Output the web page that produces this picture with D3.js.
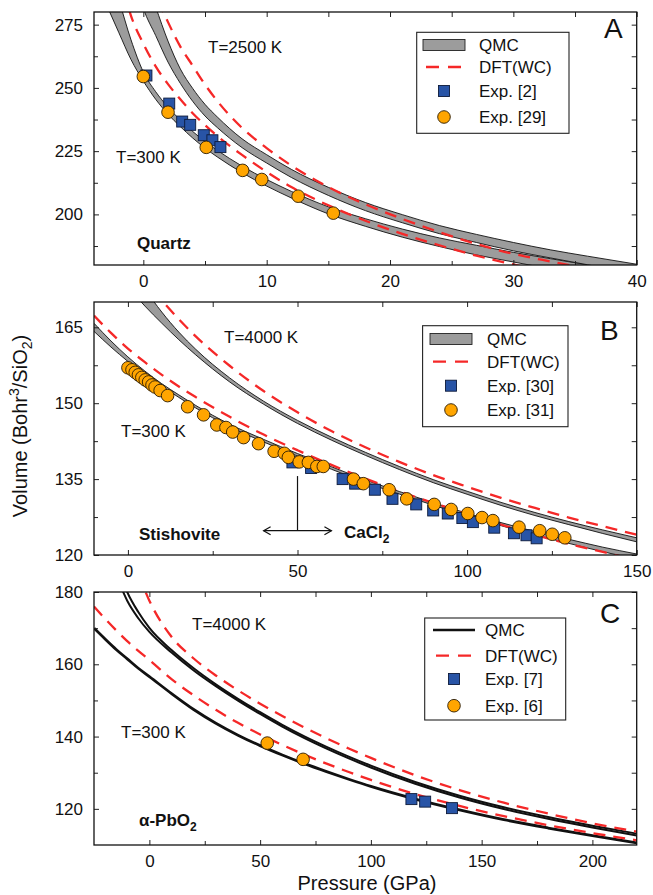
<!DOCTYPE html>
<html>
<head>
<meta charset="utf-8">
<script src="https://cdn.jsdelivr.net/npm/d3@7"></script>
<style>
body { margin: 0; background: #fff; }
svg text { font-family: "Liberation Sans", Arial, Helvetica, sans-serif; fill: #111; }
</style>
</head>
<body>
<svg id="fig" width="653" height="895"></svg>
<script>
// ---------------- data (pressure in GPa, volume in bohr^3 / SiO2) ----------------

// Panel A : quartz
var pA = [-3, -2, -1, 0, 1, 2, 3, 4, 5, 6, 8, 10, 12, 15, 18, 21, 24, 27, 30, 33, 36, 40];
var qmcLoA300  = [283, 272, 261.2, 252.7, 245.5, 239.6, 234.7, 230.2, 226.2, 222.7, 216.5, 211.2, 206.5, 200.2, 195.3, 191.0, 187.3, 184.0, 181.2, 178.5, 176.1, 173.2];
var qmcHiA300  = [300, 285, 269, 256.3, 248.5, 242.4, 237.3, 232.8, 228.8, 225.3, 219.1, 213.8, 209.1, 203.0, 198.3, 194.2, 190.7, 187.8, 185.0, 182.5, 180.1, 177.2];
var qmcLoA2500 = [null, null, 300, 281.5, 270.7, 260.2, 251.8, 244.7, 238.9, 234.3, 226.4, 220.3, 214.6, 207.5, 201.5, 196.7, 192.4, 188.9, 185.6, 182.8, 180.1, 176.7];
var qmcHiA2500 = [null, null, 315, 296, 282, 268.5, 257.5, 249.8, 243.5, 238.5, 229.9, 223.6, 217.8, 210.7, 204.7, 199.9, 195.6, 192.1, 188.9, 186.0, 183.5, 180.3];
var dftA300    = [null, 296, 278.5, 267.5, 258.5, 251.5, 245.5, 240, 235.3, 231, 223.5, 216.8, 210.8, 203.6, 197.5, 192.3, 187.8, 183.7, 180.2, 177.0, 174.0, 170.5];
var dftA2500   = [null, null, null, 299, 287, 276, 266.3, 258.8, 251.3, 244.8, 234.2, 226.2, 219.3, 210.8, 204.0, 198.2, 193.0, 188.3, 184.4, 181.4, 178.6, 175.0];
var exp2P  = [0.25, 2.1, 3.15, 3.8, 4.9, 5.6, 6.25];
var exp2V  = [254.9, 243.8, 236.7, 235.4, 231.3, 229.3, 226.6];
var exp29P = [0, 2.0, 5.1, 8.05, 9.6, 12.55, 15.4];
var exp29V = [254.5, 240.4, 226.5, 217.4, 213.8, 207.2, 200.5];

// Panel B : stishovite / CaCl2
var pB = [-10, -5, 0, 5, 10, 15, 20, 30, 40, 50, 60, 70, 80, 90, 100, 110, 120, 130, 140, 150];
var qmcLoB300  = [164.2, 161.1, 158.25, 155.65, 153.35, 151.15, 149.05, 145.35, 142.35, 139.55, 136.95, 134.35, 132.05, 129.85, 127.75, 125.8, 123.95, 122.3, 120.65, 119.2];
var qmcHiB300  = [165.8, 162.3, 159.15, 156.35, 153.85, 151.65, 149.55, 145.85, 142.85, 140.05, 137.45, 134.85, 132.55, 130.35, 128.25, 126.4, 124.65, 123.1, 121.55, 120.2];
var qmcLoB4000 = [null, null, 173.0, 169.2, 165.8, 162.55, 159.55, 154.2, 149.8, 146.0, 142.7, 139.7, 136.9, 134.3, 132.0, 129.8, 127.8, 126.0, 124.25, 122.6];
var qmcHiB4000 = [null, null, 178.0, 172.6, 168.0, 164.05, 160.65, 155.0, 150.4, 146.6, 143.3, 140.3, 137.5, 134.9, 132.6, 130.4, 128.4, 126.6, 124.95, 123.4];
var dftB300    = [167.3, 163.9, 160.8, 158.1, 155.6, 153.3, 151.2, 147.3, 143.8, 140.7, 137.8, 135.1, 132.6, 130.3, 128.1, 126.0, 124.0, 122.2, 120.6, 119.0];
var dftB4000   = [null, null, 178.5, 174.2, 170.3, 166.6, 163.2, 157.4, 152.4, 148.2, 144.5, 141.3, 138.4, 135.8, 133.5, 131.3, 129.3, 127.4, 125.7, 124.0];
var exp30P = [48.5, 54, 63.3, 67, 72.8, 78, 85, 90, 94.3, 98.6, 101.7, 108, 113.8, 117.5, 120.5];
var exp30V = [138.3, 137.2, 135.0, 134.1, 132.9, 131.1, 130.0, 128.8, 128.2, 127.3, 126.5, 125.4, 124.3, 123.9, 123.3];
var exp31P = [0, 1.2, 2.15, 3.1, 4.1, 5.1, 6.1, 7.1, 8.0, 9.5, 11.7, 17.6, 22.3, 26.2, 28.9, 30.9, 34.1, 38.5, 43.1, 46.1, 47.3, 50.5, 53.2, 55.7, 57.6, 66.5, 69.4, 77.0, 82.2, 90.3, 95.3, 100.2, 104.4, 107.6, 115.3, 121.4, 125.1, 128.8];
var exp31V = [157.0, 156.6, 156.1, 155.6, 155.1, 154.6, 154.2, 153.6, 153.2, 152.5, 151.5, 149.3, 147.7, 145.7, 145.2, 144.3, 143.2, 142.0, 140.5, 140.1, 139.3, 138.4, 138.3, 137.5, 137.5, 135.0, 134.1, 132.9, 131.1, 130.0, 129.0, 128.2, 127.4, 126.8, 125.5, 124.8, 124.1, 123.4];
var transP = [40, 50, 60];        // arrow: left end, transition, right end
var transV = [135.6, 124.8];      // arrow: top of the vertical bar, level of the double arrow

// Panel C : alpha-PbO2
var pC = [-25, -20, -15, -10, -5, 0, 10, 20, 30, 40, 50, 60, 70, 80, 90, 100, 120, 140, 160, 180, 200, 220];
var qmcC300    = [170.0, 167.0, 164.1, 161.5, 158.9, 156.6, 151.9, 147.5, 143.7, 140.4, 137.5, 134.9, 132.5, 130.3, 128.2, 126.2, 122.7, 119.7, 117.0, 114.7, 112.6, 110.6];
var qmcLoC4000 = [null, null, 184.7, 177.6, 172.75, 168.95, 163.25, 158.3, 153.95, 149.95, 146.25, 142.75, 139.55, 136.65, 133.95, 131.45, 126.95, 123.15, 119.95, 117.25, 114.85, 112.65];
var qmcHiC4000 = [null, null, 188.3, 180.0, 174.45, 170.05, 163.95, 158.9, 154.45, 150.45, 146.75, 143.25, 140.05, 137.15, 134.45, 131.95, 127.45, 123.65, 120.45, 117.75, 115.35, 113.15];
var dftC300    = [176.0, 172.6, 169.4, 166.4, 163.7, 161.2, 155.9, 151.4, 147.4, 143.8, 140.6, 137.7, 135.0, 132.5, 130.2, 128.0, 124.1, 120.8, 118.0, 115.5, 113.3, 111.3];
var dftC4000   = [null, null, null, null, 185.0, 177.6, 167.6, 161.6, 156.9, 152.8, 149.1, 145.7, 142.5, 139.5, 136.7, 134.1, 129.3, 125.2, 121.7, 118.7, 116.0, 113.7];
var exp7P = [118.3, 124.5, 136.6];
var exp7V = [122.7, 122.0, 120.2];
var exp6P = [53.2, 69.4];
var exp6V = [138.2, 133.7];

// tick values
var xMajorA = [0, 10, 20, 30, 40],      xMinorA = [5, 15, 25, 35];
var yMajorA = [200, 225, 250, 275],     yMinorA = [187.5, 212.5, 237.5, 262.5];
var xMajorB = [0, 50, 100, 150],        xMinorB = [25, 75, 125];
var yMajorB = [120, 135, 150, 165],     yMinorB = [127.5, 142.5, 157.5];
var xMajorC = [0, 50, 100, 150, 200],   xMinorC = [25, 75, 125, 175];
var yMajorC = [120, 140, 160, 180],     yMinorC = [130, 150, 170];

// ---------------- drawing ----------------
var RED = "#f52828", GRAY = "#9c9c9c", ORANGE = "#ffa500", BLUE = "#2854a6";
var svg = d3.select("#fig");

function drawPanel(cfg) {
    var L = 94, R = 636.7, T = cfg.top, B = cfg.top + 253;
    var x = d3.scaleLinear().domain(cfg.xDom).range([L, R]);
    var y = d3.scaleLinear().domain(cfg.yDom).range([B, T]);
    var g = svg.append("g");

    g.append("clipPath").attr("id", "clip" + cfg.name)
        .append("rect").attr("x", L).attr("y", T).attr("width", R - L).attr("height", B - T);
    var plot = g.append("g").attr("clip-path", "url(#clip" + cfg.name + ")");

    function idx(a, b) {
        return d3.range(cfg.P.length).filter(function (i) { return a[i] != null && (!b || b[i] != null); });
    }
    function lineOf(arr) {
        return d3.line().x(function (i) { return x(cfg.P[i]); })
            .y(function (i) { return y(arr[i]); }).curve(d3.curveMonotoneX);
    }

    // QMC bands (panel C: plain black lines)
    cfg.bands.forEach(function (b) {
        var ii = idx(b.lo, b.hi);
        if (cfg.qmcStyle === "band") {
            var area = d3.area().x(function (i) { return x(cfg.P[i]); })
                .y0(function (i) { return y(b.lo[i]); })
                .y1(function (i) { return y(b.hi[i]); })
                .curve(d3.curveMonotoneX);
            plot.append("path").datum(ii).attr("d", area).attr("fill", GRAY);
        }
        var edges = b.lo === b.hi ? [b.lo] : [b.lo, b.hi];
        edges.forEach(function (edge) {
            plot.append("path").datum(ii).attr("d", lineOf(edge))
                .attr("fill", "none").attr("stroke", "#111")
                .attr("stroke-width", cfg.qmcStyle === "band" ? 0.9 : (edges.length === 1 ? 2.8 : 2.0));
        });
    });

    // DFT(WC) dashed curves
    cfg.dft.forEach(function (arr) {
        plot.append("path").datum(idx(arr)).attr("d", lineOf(arr))
            .attr("fill", "none").attr("stroke", RED)
            .attr("stroke-width", 2.3).attr("stroke-dasharray", "12,8");
    });

    // experiments
    var sq = 11;
    g.append("g").selectAll("rect").data(d3.range(cfg.sqP.length)).join("rect")
        .attr("x", function (i) { return x(cfg.sqP[i]) - sq / 2; })
        .attr("y", function (i) { return y(cfg.sqV[i]) - sq / 2; })
        .attr("width", sq).attr("height", sq)
        .attr("fill", BLUE).attr("stroke", "#0d1a3a").attr("stroke-width", 0.9);
    g.append("g").selectAll("circle").data(d3.range(cfg.ciP.length)).join("circle")
        .attr("cx", function (i) { return x(cfg.ciP[i]); })
        .attr("cy", function (i) { return y(cfg.ciV[i]); })
        .attr("r", 6.3)
        .attr("fill", ORANGE).attr("stroke", "#2a1c05").attr("stroke-width", 0.9);

    // axes: inward ticks on all four sides
    function styleAxis(sel) {
        sel.select(".domain").remove();
        sel.selectAll("line").attr("stroke", "#222");
        sel.attr("font-size", 17).attr("font-family", null);
        sel.selectAll("text").attr("fill", "#111");
    }
    var fmt = d3.format("d");
    g.append("g").attr("transform", "translate(0," + B + ")")
        .call(d3.axisBottom(x).tickValues(cfg.xMajor).tickSize(-5).tickPadding(10).tickFormat(fmt)).call(styleAxis);
    g.append("g").attr("transform", "translate(0," + B + ")")
        .call(d3.axisBottom(x).tickValues(cfg.xMinor).tickSize(-4).tickFormat("")).call(styleAxis);
    g.append("g").attr("transform", "translate(0," + T + ")")
        .call(d3.axisTop(x).tickValues(cfg.xMajor.concat(cfg.xMinor)).tickSize(-5).tickFormat("")).call(styleAxis);
    g.append("g").attr("transform", "translate(" + L + ",0)")
        .call(d3.axisLeft(y).tickValues(cfg.yMajor).tickSize(-5).tickPadding(11).tickFormat(fmt)).call(styleAxis);
    g.append("g").attr("transform", "translate(" + L + ",0)")
        .call(d3.axisLeft(y).tickValues(cfg.yMinor).tickSize(-4).tickFormat("")).call(styleAxis);
    g.append("g").attr("transform", "translate(" + R + ",0)")
        .call(d3.axisRight(y).tickValues(cfg.yMajor.concat(cfg.yMinor)).tickSize(-5).tickFormat("")).call(styleAxis);

    g.append("rect").attr("x", L).attr("y", T).attr("width", R - L).attr("height", B - T)
        .attr("fill", "none").attr("stroke", "#111").attr("stroke-width", 1.3);

    // annotations
    cfg.notes.forEach(function (n) {
        var t = g.append("text").attr("x", L + n.dx).attr("y", T + n.dy)
            .attr("font-size", n.size || 17).attr("font-weight", n.bold ? "bold" : null);
        t.append("tspan").text(n.text);
        if (n.sub) t.append("tspan").attr("dy", 5).attr("font-size", 12).text(n.sub);
    });
    g.append("text").attr("x", L + cfg.letter.dx).attr("y", T + cfg.letter.dy)
        .attr("font-size", 28).text(cfg.letter.text);

    // legend
    var lg = cfg.legend;
    g.append("rect").attr("x", lg.box[0]).attr("y", lg.box[1]).attr("width", lg.box[2]).attr("height", lg.box[3])
        .attr("fill", "#fff").attr("stroke", "#222").attr("stroke-width", 1.1);
    var sx = lg.sym;
    if (cfg.qmcStyle === "band") {
        g.append("rect").attr("x", sx - 21).attr("y", lg.rows[0] - 5.5).attr("width", 42).attr("height", 11)
            .attr("fill", GRAY).attr("stroke", "#222").attr("stroke-width", 0.9);
    } else {
        g.append("line").attr("x1", sx - 21).attr("x2", sx + 21).attr("y1", lg.rows[0]).attr("y2", lg.rows[0])
            .attr("stroke", "#111").attr("stroke-width", 2.6);
    }
    g.append("line").attr("x1", sx - 18).attr("x2", sx + 18).attr("y1", lg.rows[1]).attr("y2", lg.rows[1])
        .attr("stroke", RED).attr("stroke-width", 2.3).attr("stroke-dasharray", "13,9");
    g.append("rect").attr("x", sx - sq / 2).attr("y", lg.rows[2] - sq / 2).attr("width", sq).attr("height", sq)
        .attr("fill", BLUE).attr("stroke", "#0d1a3a").attr("stroke-width", 0.9);
    g.append("circle").attr("cx", sx).attr("cy", lg.rows[3]).attr("r", 6.3)
        .attr("fill", ORANGE).attr("stroke", "#2a1c05").attr("stroke-width", 0.9);
    lg.labels.forEach(function (s, i) {
        g.append("text").attr("x", lg.text).attr("y", lg.rows[i]).attr("dy", "0.36em")
            .attr("font-size", 17).text(s);
    });

    return { x: x, y: y, g: g };
}

drawPanel({
    name: "A", top: 12, xDom: [-4, 40], yDom: [180, 280], P: pA, qmcStyle: "band",
    bands: [{ lo: qmcLoA300, hi: qmcHiA300 }, { lo: qmcLoA2500, hi: qmcHiA2500 }],
    dft: [dftA300, dftA2500],
    sqP: exp2P, sqV: exp2V, ciP: exp29P, ciV: exp29V,
    xMajor: xMajorA, xMinor: xMinorA, yMajor: yMajorA, yMinor: yMinorA,
    notes: [{ text: "T=2500 K", dx: 114, dy: 41 }, { text: "T=300 K", dx: 22, dy: 151 },
            { text: "Quartz", dx: 43, dy: 237, bold: true }],
    letter: { text: "A", dx: 510, dy: 26 },
    legend: { box: [416.7, 32.3, 152.3, 101], rows: [45, 67, 91, 117], sym: 444, text: 479,
              labels: ["QMC", "DFT(WC)", "Exp. [2]", "Exp. [29]"] }
});

var pb = drawPanel({
    name: "B", top: 302, xDom: [-10, 150], yDom: [120, 170], P: pB, qmcStyle: "band",
    bands: [{ lo: qmcLoB300, hi: qmcHiB300 }, { lo: qmcLoB4000, hi: qmcHiB4000 }],
    dft: [dftB300, dftB4000],
    sqP: exp30P, sqV: exp30V, ciP: exp31P, ciV: exp31V,
    xMajor: xMajorB, xMinor: xMinorB, yMajor: yMajorB, yMinor: yMinorB,
    notes: [{ text: "T=4000 K", dx: 130, dy: 41 }, { text: "T=300 K", dx: 27, dy: 135 },
            { text: "Stishovite", dx: 45, dy: 238, bold: true },
            { text: "CaCl", sub: "2", dx: 250, dy: 236, bold: true }],
    letter: { text: "B", dx: 506, dy: 38 },
    legend: { box: [422.6, 325.7, 145.4, 101], rows: [339, 361.7, 385.7, 410], sym: 451, text: 487,
              labels: ["QMC", "DFT(WC)", "Exp. [30]", "Exp. [31]"] }
});

// stishovite -> CaCl2 transition marker
var ax = pb.g.append("g").attr("stroke", "#111").attr("stroke-width", 1.2).attr("fill", "none");
ax.append("line").attr("x1", pb.x(transP[1])).attr("x2", pb.x(transP[1]))
    .attr("y1", pb.y(transV[0])).attr("y2", pb.y(transV[1]));
ax.append("line").attr("x1", pb.x(transP[0])).attr("x2", pb.x(transP[2]))
    .attr("y1", pb.y(transV[1])).attr("y2", pb.y(transV[1]));
[[transP[0], 1], [transP[2], -1]].forEach(function (a) {
    var px = pb.x(a[0]), py = pb.y(transV[1]);
    ax.append("path").attr("d", "M" + (px + a[1] * 7) + "," + (py - 4) + "L" + px + "," + py + "L" + (px + a[1] * 7) + "," + (py + 4));
});

drawPanel({
    name: "C", top: 592, xDom: [-25, 220], yDom: [110, 180], P: pC, qmcStyle: "line",
    bands: [{ lo: qmcC300, hi: qmcC300 }, { lo: qmcLoC4000, hi: qmcHiC4000 }],
    dft: [dftC300, dftC4000],
    sqP: exp7P, sqV: exp7V, ciP: exp6P, ciV: exp6V,
    xMajor: xMajorC, xMinor: xMinorC, yMajor: yMajorC, yMinor: yMinorC,
    notes: [{ text: "T=4000 K", dx: 98, dy: 38 }, { text: "T=300 K", dx: 27, dy: 146 },
            { text: "\u03b1-PbO", sub: "2", dx: 45, dy: 234, bold: true }],
    letter: { text: "C", dx: 506, dy: 31 },
    legend: { box: [424.7, 618, 141, 102], rows: [630, 655.7, 679, 705.7], sym: 454, text: 485,
              labels: ["QMC", "DFT(WC)", "Exp. [7]", "Exp. [6]"] }
});

// axis titles
svg.append("text").attr("x", 367).attr("y", 890).attr("text-anchor", "middle")
    .attr("font-size", 20).text("Pressure (GPa)");
var yt = svg.append("text").attr("transform", "translate(27,426) rotate(-90)")
    .attr("text-anchor", "middle").attr("font-size", 20);
yt.append("tspan").text("Volume (Bohr");
yt.append("tspan").attr("dy", -8).attr("font-size", 14).text("3");
yt.append("tspan").attr("dy", 8).text("/SiO");
yt.append("tspan").attr("dy", 5).attr("font-size", 14).text("2");
yt.append("tspan").attr("dy", -5).text(")");
</script>
</body>
</html>
